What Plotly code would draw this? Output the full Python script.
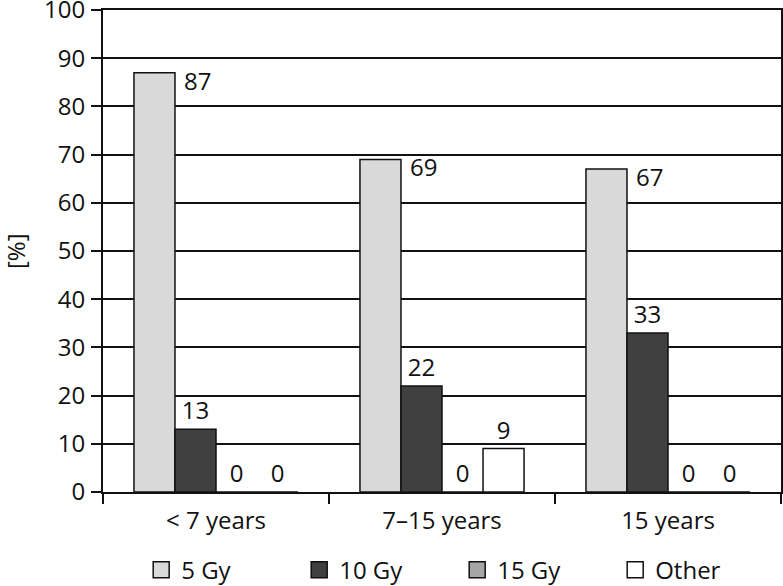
import plotly.graph_objects as go

categories = ["< 7 years", "7–15 years", "15 years"]
series_names = ["5 Gy", "10 Gy", "15 Gy", "Other"]
values_5gy = [87, 69, 67]
values_10gy = [13, 22, 33]
values_15gy = [0, 0, 0]
values_other = [0, 9, 0]
y_ticks = list(range(0, 101, 10))

colors = ["#d9d9d9", "#404040", "#a6a6a6", "#ffffff"]
series_values = [values_5gy, values_10gy, values_15gy, values_other]

FONT = "Open Sans"
FS = 24
INK = "#111111"
fig = go.Figure()
for i, (name, vals, col) in enumerate(zip(series_names, series_values, colors)):
    fig.add_trace(go.Bar(
        name=name, x=categories, y=vals, showlegend=False,
        marker=dict(color=col, line=dict(color=INK, width=1.5)),
        text=None if i == 0 else [str(v) for v in vals],
        textposition="outside",
        textfont=dict(family=FONT, size=FS, color=INK),
        cliponaxis=False,
    ))
# legend entries (square swatches)
for name, col in zip(series_names, colors):
    fig.add_trace(go.Scatter(
        name=name, x=[None], y=[None], mode="markers",
        marker=dict(symbol="square", size=16, color=col, line=dict(color=INK, width=1.5)),
        showlegend=True,
    ))

# labels for the 5 Gy series, placed to the right of the bar top
bargap = 0.274
bw = (1 - bargap) / 4
for i, v in enumerate(values_5gy):
    fig.add_annotation(
        x=i - bw, y=v, xref="x", yref="y",
        text=str(v), showarrow=False,
        xanchor="left", yanchor="top", xshift=7, yshift=11,
        font=dict(family=FONT, size=FS, color=INK),
    )

# y axis title
fig.add_annotation(
    x=0, y=0.5, xref="paper", yref="paper", xshift=-88,
    xanchor="center", yanchor="middle",
    text="[%]", textangle=-90, showarrow=False,
    font=dict(family=FONT, size=FS, color=INK),
)

fig.update_layout(
    width=783, height=586,
    margin=dict(l=103, r=2, t=10, b=94, autoexpand=False),
    paper_bgcolor="white", plot_bgcolor="white",
    barmode="group", bargap=bargap, bargroupgap=0,
    font=dict(family=FONT, size=FS, color=INK),
    legend=dict(orientation="h", x=0.5224, xanchor="center", y=-0.162, yanchor="middle",
                font=dict(family=FONT, size=FS, color=INK),
                entrywidth=113, entrywidthmode="pixels",
                itemwidth=30, traceorder="normal"),
)
fig.update_xaxes(
    type="category", showline=True, linecolor=INK, linewidth=2,
    mirror=True, ticks="outside", tickson="boundaries", ticklen=10,
    tickcolor=INK, tickwidth=2, showgrid=False, automargin=False,
    ticklabelstandoff=6,
    tickfont=dict(family=FONT, size=FS, color=INK),
)
fig.update_yaxes(
    range=[0, 100], tickvals=y_ticks, showline=True, linecolor=INK,
    linewidth=2, mirror=True, ticks="outside", ticklen=10, tickcolor=INK,
    tickwidth=2, showgrid=True, gridcolor=INK, gridwidth=2,
    zeroline=False, automargin=False, ticklabeloverflow="allow",
    ticklabelstandoff=1,
    tickfont=dict(family=FONT, size=FS, color=INK),
)

fig.write_html("out.html", config={"displayModeBar": False},
               post_script="document.body.style.margin='0';")
